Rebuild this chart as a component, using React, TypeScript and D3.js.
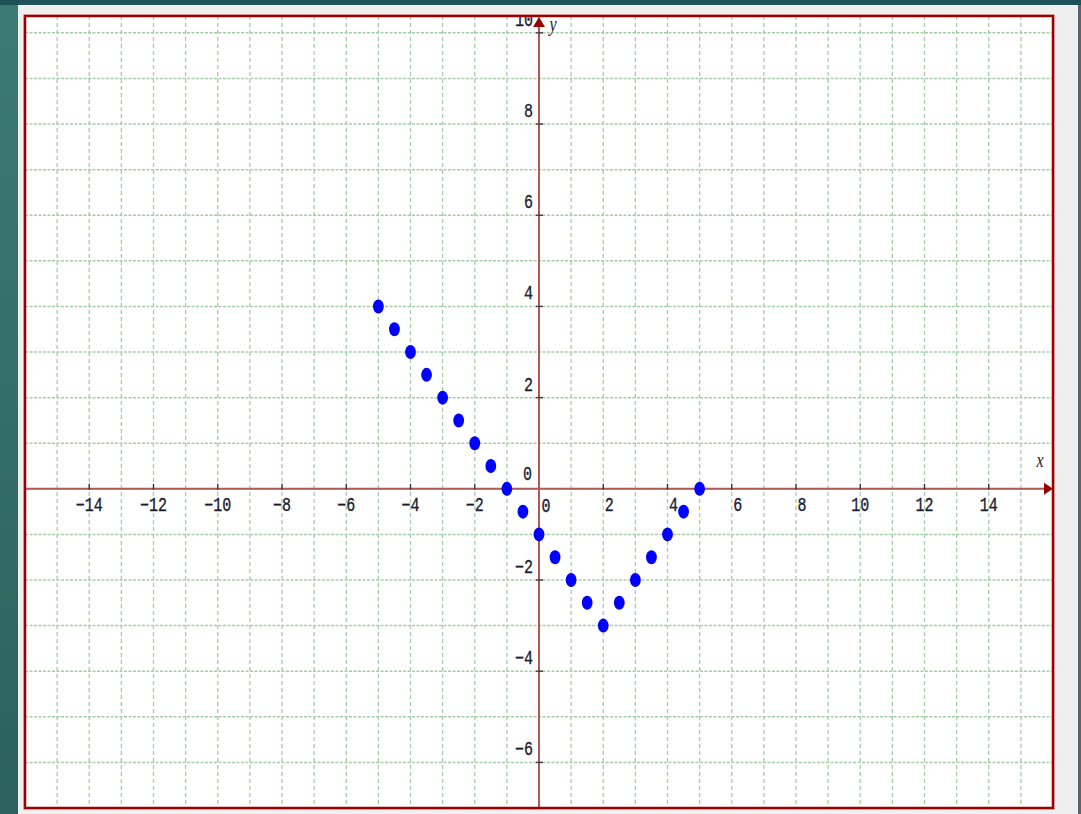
import React from "react";
import * as d3 from "d3";

const xValues = [-5, -4.5, -4, -3.5, -3, -2.5, -2, -1.5, -1, -0.5, 0, 0.5, 1, 1.5, 2, 2.5, 3, 3.5, 4, 4.5, 5];
const yValues = [4, 3.5, 3, 2.5, 2, 1.5, 1, 0.5, 0, -0.5, -1, -1.5, -2, -2.5, -3, -2.5, -2, -1.5, -1, -0.5, 0];
const xTickValues = [-14, -12, -10, -8, -6, -4, -2, 2, 4, 6, 8, 10, 12, 14];
const yTickValues = [-6, -4, -2, 2, 4, 6, 8, 10];
const xGridValues = d3.range(-15, 16);
const yGridValues = d3.range(-6, 11);

const W = 1081;
const H = 814;
const plot = { left: 25, right: 1053, top: 16, bottom: 808 };

const fmt = (v: number) => (v < 0 ? "\u2212" + Math.abs(v) : String(v));

export default function App() {
  const x = d3.scaleLinear().domain([-16, 16]).range([plot.left, plot.right]);
  const y = d3.scaleLinear().domain([-7, 10.37]).range([plot.bottom, plot.top]);
  const x0 = x(0);
  const y0 = y(0);
  const labelFont = "'Liberation Mono', 'DejaVu Sans Mono', monospace";
  const labelColor = "#1a2030";
  const axisColor = "#b35656";
  const txt = (key: string, tx: number, ty: number, s: string, anchor: string) => (
    <text
      key={key}
      transform={`translate(${tx},${ty}) scale(1,1.3)`}
      textAnchor={anchor}
      fontFamily={labelFont}
      fontSize={15}
      fill={labelColor}
      stroke={labelColor}
      strokeWidth={0.25}
    >
      {s}
    </text>
  );
  return (
    <svg width={W} height={H} style={{ position: "absolute", left: 0, top: 0 }}>
      <defs>
        <linearGradient id="bg" x1="0" y1="0" x2="0" y2="1">
          <stop offset="0" stopColor="#3b7b72" />
          <stop offset="1" stopColor="#2c615d" />
        </linearGradient>
        <clipPath id="plotClip">
          <rect x={plot.left} y={plot.top} width={plot.right - plot.left} height={plot.bottom - plot.top} />
        </clipPath>
      </defs>
      <rect x={0} y={0} width={W} height={H} fill="url(#bg)" />
      <rect x={0} y={0} width={W} height={5} fill="#1f5158" />
      <rect x={18} y={5} width={1060} height={H - 5} fill="#efefef" />
      <rect x={1078} y={5} width={3} height={H - 5} fill="#5a6470" />
      <rect x={plot.left} y={plot.top} width={plot.right - plot.left} height={plot.bottom - plot.top} fill="#ffffff" />
      <g clipPath="url(#plotClip)">
        {xGridValues.map((v) => (
          <line key={"gx" + v} x1={x(v)} x2={x(v)} y1={plot.top} y2={plot.bottom} stroke="#a6cea6" strokeWidth={1.3} strokeDasharray="4,3" />
        ))}
        {yGridValues.map((v) => (
          <line key={"gy" + v} x1={plot.left} x2={plot.right} y1={y(v)} y2={y(v)} stroke="#a6cea6" strokeWidth={1.5} strokeDasharray="3,1.5" />
        ))}
        <line x1={plot.left} x2={plot.right - 6} y1={y0} y2={y0} stroke={axisColor} strokeWidth={2} />
        <line x1={x0} x2={x0} y1={plot.bottom} y2={plot.top + 8} stroke={axisColor} strokeWidth={2} />
        {xTickValues.map((v) => (
          <line key={"tx" + v} x1={x(v)} x2={x(v)} y1={y0 - 5} y2={y0 + 1} stroke="#333" strokeWidth={1.3} />
        ))}
        {yTickValues.map((v) => (
          <line key={"ty" + v} x1={x0 - 3} x2={x0 + 4} y1={y(v)} y2={y(v)} stroke="#444" strokeWidth={1.5} />
        ))}
        {xTickValues.map((v) => txt("lx" + v, x(v) + (String(v).length === 1 ? 6 : 0), y0 + 22, fmt(v), "middle"))}
        {yTickValues.map((v) => txt("ly" + v, x0 - 6, y(v) - 7, fmt(v), "end"))}
        {txt("l0a", x0 - 7, y0 - 9, "0", "end")}
        {txt("l0b", x0 + 7, y0 + 23, "0", "middle")}
        <path d={`M${plot.right},${y0} L${plot.right - 9},${y0 - 6} L${plot.right - 9},${y0 + 6} Z`} fill="#990000" />
        <path d={`M${x0},${plot.top + 1} L${x0 - 6},${plot.top + 11} L${x0 + 6},${plot.top + 11} Z`} fill="#990000" />
        <text transform={`translate(${x(15.6)},${y0 - 22}) scale(1,1.3)`} fontFamily="'Liberation Serif', serif" fontStyle="italic" fontSize={16} fill="#1c2230" textAnchor="middle">x</text>
        <text transform={`translate(${x0 + 14},${plot.top + 15}) scale(1,1.3)`} fontFamily="'Liberation Serif', serif" fontStyle="italic" fontSize={16} fill="#1c2230" textAnchor="middle">y</text>
        {xValues.map((v, i) => (
          <ellipse key={"p" + i} cx={x(v)} cy={y(yValues[i])} rx={5.4} ry={7} fill="#0000ff" />
        ))}
      </g>
      <rect x={plot.left - 1} y={plot.top - 1} width={plot.right - plot.left + 2} height={plot.bottom - plot.top + 2} fill="none" stroke="#e8a0a0" strokeWidth={1} />
      <rect x={plot.left} y={plot.top} width={plot.right - plot.left} height={plot.bottom - plot.top} fill="none" stroke="#990000" strokeWidth={2.5} />
    </svg>
  );
}
